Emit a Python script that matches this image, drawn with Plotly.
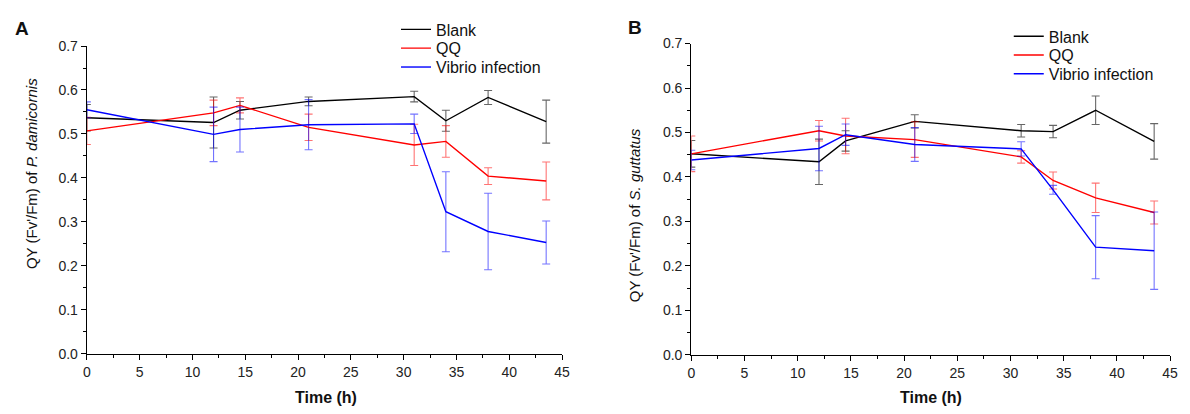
import plotly.graph_objects as go

# ---------------- data ----------------
time_h = [0, 12, 14.5, 21, 31, 34, 38, 43.5]
series_names = ["Blank", "QQ", "Vibrio infection"]

a_blank = [0.537, 0.526, 0.554, 0.574, 0.585, 0.530, 0.583, 0.528]
a_blank_err = [0.030, 0.058, 0.020, 0.010, 0.012, 0.024, 0.016, 0.049]
a_qq = [0.507, 0.548, 0.565, 0.515, 0.475, 0.483, 0.404, 0.393]
a_qq_err = [0.031, 0.029, 0.017, 0.030, 0.047, 0.036, 0.019, 0.043]
a_vib = [0.555, 0.499, 0.510, 0.521, 0.523, 0.323, 0.278, 0.253]
a_vib_err = [0.018, 0.062, 0.051, 0.057, 0.022, 0.091, 0.087, 0.049]

b_blank = [0.452, 0.434, 0.481, 0.525, 0.504, 0.502, 0.550, 0.480]
b_blank_err = [0.030, 0.051, 0.023, 0.015, 0.014, 0.014, 0.032, 0.040]
b_qq = [0.452, 0.504, 0.492, 0.484, 0.445, 0.392, 0.353, 0.320]
b_qq_err = [0.040, 0.023, 0.040, 0.040, 0.014, 0.019, 0.033, 0.026]
b_vib = [0.438, 0.464, 0.495, 0.473, 0.463, 0.371, 0.242, 0.234]
b_vib_err = [0.022, 0.050, 0.024, 0.038, 0.016, 0.010, 0.071, 0.087]

x_ticks = [0, 5, 10, 15, 20, 25, 30, 35, 40, 45]
y_ticks = [0.0, 0.1, 0.2, 0.3, 0.4, 0.5, 0.6, 0.7]
y_tick_text = ["0.0", "0.1", "0.2", "0.3", "0.4", "0.5", "0.6", "0.7"]

# ---------------- style ----------------
W, H = 1190, 414
FONT = "Arial, 'Liberation Sans', sans-serif"
line_cols = ["#000000", "#ff0000", "#0000ff"]
err_cols = ["rgba(0,0,0,0.6)", "rgba(255,0,0,0.55)", "rgba(0,0,255,0.55)"]

def px_x(p):
    return p / W

def px_y(p):
    return (H - p) / H

fig = go.Figure()

panels = [
    ("x", "y", [a_blank, a_qq, a_vib], [a_blank_err, a_qq_err, a_vib_err],
     ["legend", "legend2", "legend3"]),
    ("x2", "y2", [b_blank, b_qq, b_vib], [b_blank_err, b_qq_err, b_vib_err],
     ["legend4", "legend5", "legend6"]),
]

for xa, ya, vals, errs, legs in panels:
    for i in range(3):
        fig.add_trace(go.Scatter(
            x=time_h, y=vals[i], mode="lines", name=series_names[i],
            xaxis=xa, yaxis=ya, legend=legs[i], showlegend=True,
            line=dict(color=line_cols[i], width=1.4),
            error_y=dict(type="data", array=errs[i], visible=True,
                         color=err_cols[i], thickness=1.1, width=4),
        ))

axis_common = dict(
    showline=True, linecolor="black", linewidth=1.3, mirror=False,
    ticks="outside", ticklen=5, tickwidth=1.2, tickcolor="black",
    showgrid=False, zeroline=False,
    tickfont=dict(family=FONT, size=14, color="#222222"),
)

xa_dom = [px_x(83.7), px_x(563.7)]
xb_dom = [px_x(694.3), px_x(1178)]
ya_dom = [px_y(359.5), px_y(39.6)]
yb_dom = [px_y(360.7), px_y(37.0)]

def xaxis_cfg(dom, anchor):
    return dict(axis_common, domain=dom, anchor=anchor, range=[0, 45],
                tickvals=x_ticks,
                minor=dict(ticks="outside", ticklen=3, tickwidth=1.1,
                           tickcolor="black", dtick=2.5, tick0=0))

def yaxis_cfg(dom, anchor):
    return dict(axis_common, domain=dom, anchor=anchor, range=[0, 0.7],
                tickvals=y_ticks, ticktext=y_tick_text,
                minor=dict(ticks="outside", ticklen=3, tickwidth=1.1,
                           tickcolor="black", dtick=0.05, tick0=0))

layout = dict(
    width=W, height=H,
    margin=dict(l=0, r=0, t=0, b=0),
    paper_bgcolor="white", plot_bgcolor="white",
    showlegend=True,
    font=dict(family=FONT, color="#111111"),
    xaxis=xaxis_cfg(xa_dom, "y"),
    yaxis=yaxis_cfg(ya_dom, "x"),
    xaxis2=xaxis_cfg(xb_dom, "y2"),
    yaxis2=yaxis_cfg(yb_dom, "x2"),
)

# one legend per entry so spacing matches the reference
leg_pos = {
    "legend": (396, 22.3), "legend2": (396, 41.8), "legend3": (396, 61.5),
    "legend4": (1015, 29.5), "legend5": (1015, 49.0), "legend6": (1015, 68.5),
}
for key, (lx, ly) in leg_pos.items():
    layout[key] = dict(x=px_x(lx), y=px_y(ly), xanchor="left", yanchor="middle",
                       xref="paper", yref="paper",
                       bgcolor="rgba(0,0,0,0)", borderwidth=0,
                       font=dict(family=FONT, size=16, color="#111111"))

fig.update_layout(**layout)

annotations = [
    dict(text="<b>A</b>", x=px_x(18), y=px_y(21), font=dict(size=19)),
    dict(text="<b>B</b>", x=px_x(637), y=px_y(20), font=dict(size=19)),
    dict(text="QY (Fv'/Fm) of <i>P. damicornis</i>", x=px_x(28), y=px_y(172),
         textangle=-90, font=dict(size=15)),
    dict(text="QY (Fv'/Fm) of <i>S. guttatus</i>", x=px_x(637), y=px_y(216),
         textangle=-90, font=dict(size=15)),
    dict(text="<b>Time (h)</b>", x=px_x(325), y=px_y(405), font=dict(size=16)),
    dict(text="<b>Time (h)</b>", x=px_x(936), y=px_y(405), font=dict(size=16)),
]
for a in annotations:
    a.update(xref="paper", yref="paper", showarrow=False,
             xanchor="center", yanchor="middle")
    a["font"].update(family=FONT, color="#111111")
fig.update_layout(annotations=annotations)

fig.write_html(
    "out.html",
    config={"displayModeBar": False},
    post_script="document.body.style.margin='0';document.body.style.padding='0';"
                "document.body.style.overflow='hidden';",
)
